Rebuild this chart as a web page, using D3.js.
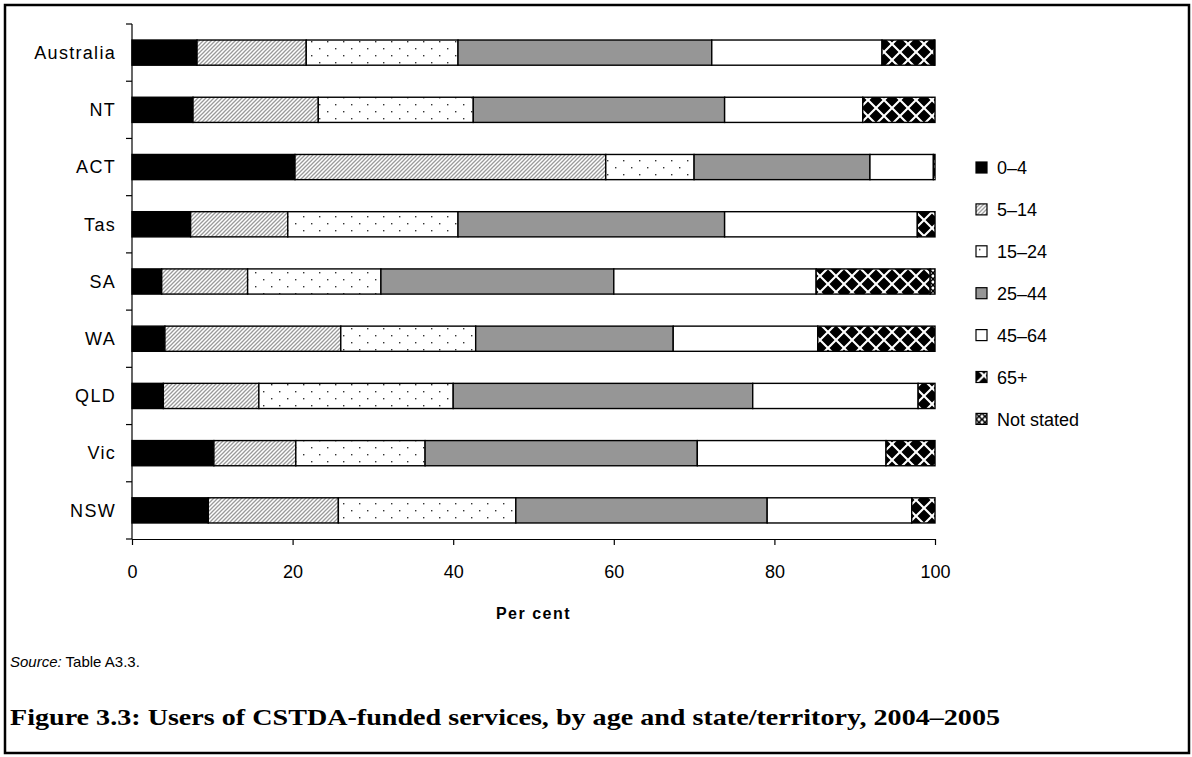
<!DOCTYPE html>
<html>
<head>
<meta charset="utf-8">
<script src="https://cdn.jsdelivr.net/npm/d3@7"></script>
<style>
  body { margin: 0; background: #fff; }
  svg text { font-family: "Liberation Sans", Arial, sans-serif; }
</style>
</head>
<body>
<div id="chart"></div>
<script>
// categories, top to bottom
const states = ["Australia", "NT", "ACT", "Tas", "SA", "WA", "QLD", "Vic", "NSW"];
const ageGroups = ["0–4", "5–14", "15–24", "25–44", "45–64", "65+", "Not stated"];

// per cent by age group, one array per state (same order as states)
const age0_4   = [8.1, 7.6, 20.3, 7.3, 3.7, 4.1, 3.9, 10.2, 9.5];
const age5_14  = [13.6, 15.6, 38.7, 12.1, 10.7, 21.9, 11.9, 10.2, 16.2];
const age15_24 = [18.9, 19.3, 11.0, 21.2, 16.6, 16.8, 24.2, 16.1, 22.1];
const age25_44 = [31.6, 31.3, 21.9, 33.2, 29.0, 24.6, 37.3, 33.9, 31.3];
const age45_64 = [21.2, 17.2, 7.9, 24.0, 25.2, 18.0, 20.6, 23.5, 18.0];
const age65    = [6.5, 9.0, 0.2, 2.2, 14.2, 14.6, 2.1, 6.1, 2.9];
const ageNS    = [0.1, 0.0, 0.0, 0.0, 0.6, 0.0, 0.0, 0.0, 0.0];

const xTicks = [0, 20, 40, 60, 80, 100];

const width = 1192, height = 757;
const margin = {l: 132, t: 24, r: 257, b: 218};

const svg = d3.select("#chart").append("svg")
              .attr("width", width)
              .attr("height", height);

// patterns
const defs = svg.append("defs");

let hatch = defs.append("pattern").attr("id", "p-hatch")
                .attr("patternUnits", "userSpaceOnUse")
                .attr("width", 4).attr("height", 4);
hatch.append("rect").attr("width", 4).attr("height", 4).attr("fill", "#fff");
hatch.append("path").attr("d", "M-1,1 l2,-2 M0,4 l4,-4 M3,5 l2,-2")
     .attr("stroke", "#9a9a9a").attr("stroke-width", 1.3);

let dots = defs.append("pattern").attr("id", "p-dots")
               .attr("patternUnits", "userSpaceOnUse")
               .attr("width", 16).attr("height", 14);
dots.append("rect").attr("width", 16).attr("height", 14).attr("fill", "#fff");
dots.append("rect").attr("x", 3).attr("y", 3).attr("width", 1.4).attr("height", 1.4).attr("fill", "#333");
dots.append("rect").attr("x", 11).attr("y", 10).attr("width", 1.4).attr("height", 1.4).attr("fill", "#333");

// 65+ : staggered black diamonds, nearly touching
let diam = defs.append("pattern").attr("id", "p-diamond")
               .attr("patternUnits", "userSpaceOnUse")
               .attr("width", 16).attr("height", 16)
               .attr("y", 4);
diam.append("rect").attr("width", 16).attr("height", 16).attr("fill", "#fff");
diam.append("path")
    .attr("d", "M8,1.5 L14.5,8 L8,14.5 L1.5,8 Z M0,-6.5 L6.5,0 L0,6.5 L-6.5,0 Z M16,-6.5 L22.5,0 L16,6.5 L9.5,0 Z M0,9.5 L6.5,16 L0,22.5 L-6.5,16 Z M16,9.5 L22.5,16 L16,22.5 L9.5,16 Z")
    .attr("fill", "#000");

let ns = defs.append("pattern").attr("id", "p-ns")
             .attr("patternUnits", "userSpaceOnUse")
             .attr("width", 6).attr("height", 6);
ns.append("rect").attr("width", 6).attr("height", 6).attr("fill", "#fff");
ns.append("path").attr("d", "M0,0 L6,6 M6,0 L0,6").attr("stroke", "#000").attr("stroke-width", 1.5);

const fills = ["#000", "url(#p-hatch)", "url(#p-dots)", "#969696", "#fff", "url(#p-diamond)", "url(#p-ns)"];

// outer frame
svg.append("rect").attr("x", 5).attr("y", 5)
   .attr("width", width - 8).attr("height", height - 9)
   .attr("fill", "none").attr("stroke", "#000").attr("stroke-width", 2.5);

const plotH = height - margin.t - margin.b;

const x = d3.scaleLinear().domain([0, 100]).range([0, 803]);
const y = d3.scaleBand().domain(states).range([0, plotH]).paddingInner(0.56).paddingOuter(0.28);

const root_g = svg.append("g").attr("transform", `translate(${margin.l}, ${margin.t})`);

// stacked data
const rows = states.map((s, i) => {
  let r = {state: s};
  [age0_4, age5_14, age15_24, age25_44, age45_64, age65, ageNS].forEach((arr, j) => r[ageGroups[j]] = arr[i]);
  return r;
});
const series = d3.stack().keys(ageGroups)(rows);

root_g.selectAll("g.series")
      .data(series)
      .enter().append("g")
      .attr("class", "series")
      .attr("fill", (d, i) => fills[i])
      .selectAll("rect")
      .data(d => d.filter(p => p[1] - p[0] > 0))
      .enter().append("rect")
      .attr("x", d => x(d[0]))
      .attr("y", d => y(d.data.state))
      .attr("width", d => x(d[1]) - x(d[0]))
      .attr("height", y.bandwidth())
      .attr("stroke", "#000")
      .attr("stroke-width", 1.4);

// y axis: line plus ticks at band edges
const yAxis = root_g.append("g").attr("class", "y-axis");
yAxis.append("line").attr("x1", 0).attr("x2", 0).attr("y1", 0).attr("y2", plotH)
     .attr("stroke", "#000").attr("stroke-width", 1.2);
const edges = d3.range(states.length + 1).map(i => i * plotH / states.length);
yAxis.selectAll("line.tick").data(edges).enter().append("line")
     .attr("class", "tick")
     .attr("x1", -6).attr("x2", 0).attr("y1", d => d).attr("y2", d => d)
     .attr("stroke", "#000").attr("stroke-width", 1.2);
yAxis.selectAll("text").data(states).enter().append("text")
     .attr("x", -16)
     .attr("y", d => y(d) + y.bandwidth() / 2)
     .attr("dy", "0.35em")
     .attr("text-anchor", "end")
     .attr("font-size", "18px")
     .attr("letter-spacing", "1.3px")
     .text(d => d);

// x axis
const xAxis = root_g.append("g")
                    .attr("transform", `translate(0, ${plotH})`)
                    .call(d3.axisBottom(x).tickValues(xTicks).tickSize(6).tickSizeOuter(0).tickPadding(20));
xAxis.select(".domain").attr("stroke", "#000").attr("stroke-width", 1.2);
xAxis.selectAll(".tick line").attr("stroke", "#000").attr("stroke-width", 1.2);
xAxis.selectAll(".tick text")
     .attr("font-family", "Liberation Sans, Arial, sans-serif")
     .attr("font-size", "18px").attr("fill", "#000");

root_g.append("text")
      .attr("x", x(50)).attr("y", plotH + 80)
      .attr("text-anchor", "middle")
      .attr("font-size", "16px").attr("font-weight", "bold")
      .attr("letter-spacing", "1.5px")
      .text("Per cent");

// legend
const legend = svg.append("g").attr("transform", "translate(976, 162)");
const li = legend.selectAll("g").data(ageGroups).enter().append("g")
                 .attr("transform", (d, i) => `translate(0, ${i * 41.9})`);
li.append("rect").attr("width", 11).attr("height", 11)
  .attr("fill", (d, i) => fills[i])
  .attr("stroke", "#000").attr("stroke-width", 1.2);
li.append("text").attr("x", 21).attr("y", 6).attr("dy", "0.35em")
  .attr("font-size", "18px").text(d => d);

// source note
const src = svg.append("text").attr("x", 10).attr("y", 667).attr("font-size", "15px");
src.append("tspan").attr("font-style", "italic").text("Source:");
src.append("tspan").text(" Table A3.3.");

// figure title
svg.append("text")
   .attr("x", 10).attr("y", 725)
   .style("font-family", "\"Liberation Serif\", serif")
   .attr("font-size", "23px").attr("font-weight", "bold")
   .attr("textLength", 990).attr("lengthAdjust", "spacingAndGlyphs")
   .text("Figure 3.3: Users of CSTDA-funded services, by age and state/territory, 2004–2005");
</script>
</body>
</html>
